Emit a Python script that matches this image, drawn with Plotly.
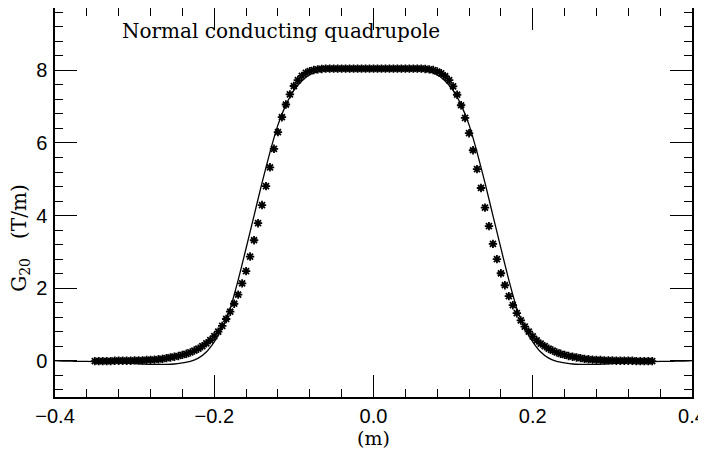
import plotly.graph_objects as go

# measured G20 along the axis (stars), 5 mm steps
star_z = [
    -0.350, -0.345, -0.340, -0.335, -0.330, -0.325, -0.320, -0.315, -0.310, -0.305,
    -0.300, -0.295, -0.290, -0.285, -0.280, -0.275, -0.270, -0.265, -0.260, -0.255,
    -0.250, -0.245, -0.240, -0.235, -0.230, -0.225, -0.220, -0.215, -0.210, -0.205,
    -0.200, -0.195, -0.190, -0.185, -0.180, -0.175, -0.170, -0.165, -0.160, -0.155,
    -0.150, -0.145, -0.140, -0.135, -0.130, -0.125, -0.120, -0.115, -0.110, -0.105,
    -0.100, -0.095, -0.090, -0.085, -0.080, -0.075, -0.070, -0.065, -0.060, -0.055,
    -0.050, -0.045, -0.040, -0.035, -0.030, -0.025, -0.020, -0.015, -0.010, -0.005,
    0.000, 0.005, 0.010, 0.015, 0.020, 0.025, 0.030, 0.035, 0.040, 0.045,
    0.050, 0.055, 0.060, 0.065, 0.070, 0.075, 0.080, 0.085, 0.090, 0.095,
    0.100, 0.105, 0.110, 0.115, 0.120, 0.125, 0.130, 0.135, 0.140, 0.145,
    0.150, 0.155, 0.160, 0.165, 0.170, 0.175, 0.180, 0.185, 0.190, 0.195,
    0.200, 0.205, 0.210, 0.215, 0.220, 0.225, 0.230, 0.235, 0.240, 0.245,
    0.250, 0.255, 0.260, 0.265, 0.270, 0.275, 0.280, 0.285, 0.290, 0.295,
    0.300, 0.305, 0.310, 0.315, 0.320, 0.325, 0.330, 0.335, 0.340, 0.345,
    0.350,
]
star_g = [
    -0.01, -0.01, -0.01, -0.01, -0.01, 0.00, 0.00, 0.00, 0.00, 0.00,
    0.01, 0.01, 0.01, 0.02, 0.02, 0.03, 0.04, 0.05, 0.07, 0.09,
    0.11, 0.13, 0.16, 0.19, 0.23, 0.28, 0.33, 0.40, 0.48, 0.57,
    0.68, 0.80, 0.96, 1.15, 1.35, 1.57, 1.82, 2.13, 2.47, 2.87,
    3.32, 3.79, 4.29, 4.81, 5.33, 5.84, 6.30, 6.71, 7.06, 7.34,
    7.57, 7.73, 7.85, 7.93, 7.98, 8.01, 8.03, 8.04, 8.05, 8.05,
    8.05, 8.05, 8.05, 8.05, 8.05, 8.05, 8.05, 8.05, 8.05, 8.05,
    8.05, 8.05, 8.05, 8.05, 8.05, 8.05, 8.05, 8.05, 8.05, 8.05,
    8.05, 8.05, 8.05, 8.04, 8.03, 8.01, 7.97, 7.92, 7.84, 7.73,
    7.56, 7.33, 7.04, 6.69, 6.27, 5.80, 5.28, 4.76, 4.22, 3.71,
    3.22, 2.80, 2.41, 2.08, 1.78, 1.53, 1.31, 1.11, 0.94, 0.80,
    0.67, 0.56, 0.47, 0.40, 0.33, 0.28, 0.23, 0.19, 0.16, 0.13,
    0.11, 0.09, 0.07, 0.05, 0.04, 0.03, 0.02, 0.02, 0.01, 0.01,
    0.01, 0.00, 0.00, 0.00, 0.00, 0.00, -0.01, -0.01, -0.01, -0.01,
    -0.01,
]

# calculated gradient (solid line)
calc_z = [
    -0.40, -0.39, -0.38, -0.37, -0.36, -0.35, -0.34, -0.33, -0.32, -0.31,
    -0.30, -0.29, -0.28, -0.27, -0.26, -0.25, -0.24, -0.23, -0.22, -0.21,
    -0.20, -0.19, -0.18, -0.17, -0.16, -0.15, -0.14, -0.13, -0.12, -0.11,
    -0.10, -0.09, -0.08, -0.07, -0.06, -0.05, -0.04, -0.03, -0.02, -0.01,
    0.00, 0.01, 0.02, 0.03, 0.04, 0.05, 0.06, 0.07, 0.08, 0.09,
    0.10, 0.11, 0.12, 0.13, 0.14, 0.15, 0.16, 0.17, 0.18, 0.19,
    0.20, 0.21, 0.22, 0.23, 0.24, 0.25, 0.26, 0.27, 0.28, 0.29,
    0.30, 0.31, 0.32, 0.33, 0.34, 0.35, 0.36, 0.37, 0.38, 0.39,
    0.40,
]
calc_g = [
    0.00, -0.01, -0.01, -0.02, -0.02, -0.03, -0.04, -0.05, -0.06, -0.07,
    -0.08, -0.09, -0.10, -0.10, -0.10, -0.09, -0.06, -0.02, 0.07, 0.24,
    0.52, 0.90, 1.44, 2.22, 3.10, 4.00, 4.90, 5.75, 6.50, 7.05,
    7.45, 7.71, 7.88, 7.97, 8.02, 8.04, 8.05, 8.05, 8.05, 8.05,
    8.05, 8.05, 8.05, 8.05, 8.05, 8.04, 8.02, 7.97, 7.88, 7.71,
    7.45, 7.05, 6.50, 5.75, 4.90, 4.00, 3.10, 2.22, 1.44, 0.90,
    0.52, 0.24, 0.07, -0.02, -0.06, -0.09, -0.10, -0.10, -0.10, -0.09,
    -0.08, -0.07, -0.06, -0.05, -0.04, -0.03, -0.02, -0.02, -0.01, -0.01,
    0.00,
]

fig = go.Figure()

fig.add_trace(go.Scatter(
    x=calc_z, y=calc_g, mode='lines',
    line=dict(color='black', width=1.3, shape='spline', smoothing=0.6),
    showlegend=False))

fig.add_trace(go.Scatter(
    x=star_z, y=star_g, mode='markers',
    marker=dict(symbol='asterisk', size=7, color='black',
                line=dict(color='black', width=1.8)),
    showlegend=False))

axis_common = dict(
    showgrid=False, zeroline=False, automargin=False,
    showline=True, linecolor='black', linewidth=1.5, mirror='ticks',
    ticks='inside', ticklen=22, tickwidth=1.2, tickcolor='black',
    tickfont=dict(family='Liberation Sans, Arial', size=20, color='black'),
)

fig.update_xaxes(
    range=[-0.4, 0.4], dtick=0.2, tick0=0, tickformat='.1f',
    minor=dict(dtick=0.04, ticks='inside', ticklen=8, tickcolor='black', tickwidth=1.2),
    **axis_common)
fig.update_yaxes(
    range=[-1.0, 9.72], dtick=2, tick0=0, ticklabelstandoff=2,
    minor=dict(dtick=0.4, ticks='inside', ticklen=8, tickcolor='black', tickwidth=1.2),
    **axis_common)

fig.add_annotation(
    x=0.102, y=0.941, xref='paper', yref='paper',
    text='Normal conducting quadrupole', showarrow=False,
    xanchor='left', yanchor='middle',
    font=dict(family='DejaVu Serif', size=20, color='black'))

fig.add_annotation(
    x=-0.056, y=0.41, xref='paper', yref='paper',
    text='G<sub>20</sub>&nbsp;&nbsp; (T/m)', showarrow=False, textangle=-90,
    xanchor='center', yanchor='middle',
    font=dict(family='DejaVu Serif', size=20, color='black'))

fig.add_annotation(
    x=0.5, y=-0.105, xref='paper', yref='paper',
    text='(m)', showarrow=False, yanchor='middle',
    font=dict(family='DejaVu Serif', size=19, color='black'))

# page body has an 8px margin, so the figure is shrunk to keep the frame in place
fig.update_layout(
    width=698, height=446,
    margin=dict(l=47, r=14, t=0, b=57),
    paper_bgcolor='white', plot_bgcolor='white',
)

fig.write_html("out.html")
